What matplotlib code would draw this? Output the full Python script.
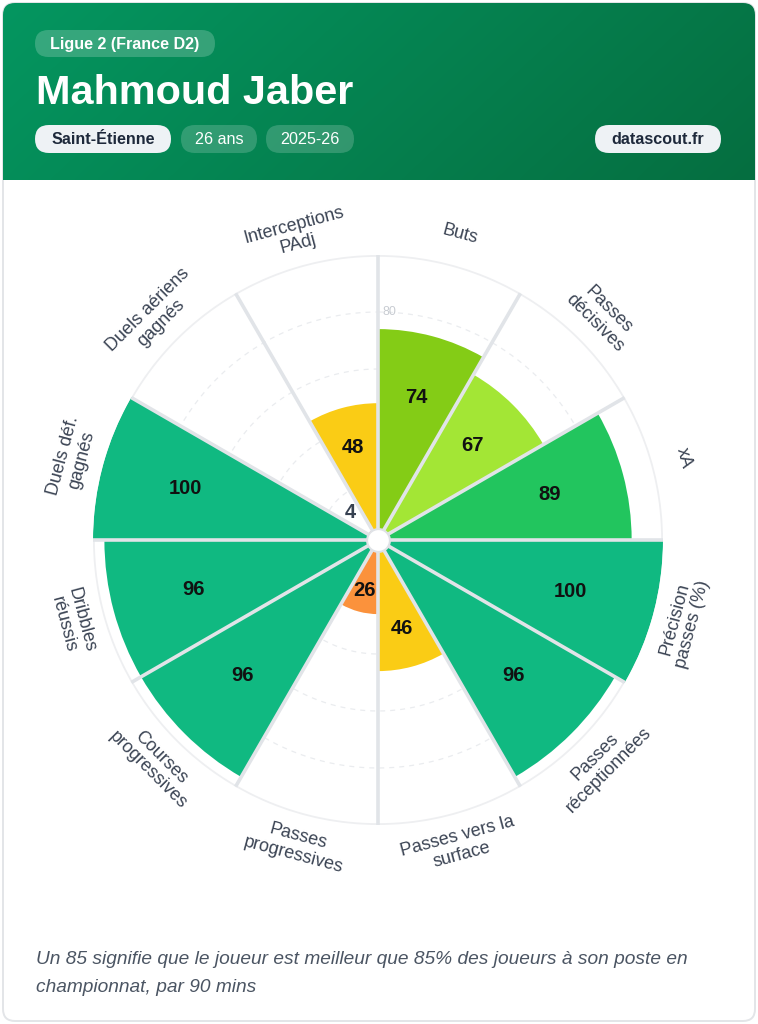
import numpy as np
import matplotlib
matplotlib.use("Agg")
import matplotlib.pyplot as plt
from matplotlib.patches import FancyBboxPatch

# ---------------- data ----------------
categories = ["Buts", "Passes\ndécisives", "xA", "Précision\npasses (%)",
              "Passes\nréceptionnées", "Passes vers la\nsurface", "Passes\nprogressives",
              "Courses\nprogressives", "Dribbles\nréussis", "Duels déf.\ngagnés",
              "Duels aériens\ngagnés", "Interceptions\nPAdj"]
values = [74, 67, 89, 100, 96, 46, 26, 96, 96, 100, 4, 48]
grid_levels = [20, 40, 60, 80]
league = "Ligue 2 (France D2)"
player = "Mahmoud Jaber"
club = "Saint-Étienne"
age = "26 ans"
season = "2025-26"
source = "datascout.fr"
footnote_lines = ["Un 85 signifie que le joueur est meilleur que 85% des joueurs à son poste en",
                  "championnat, par 90 mins"]


def color_for(v):
    if v >= 90:
        return "#10b981"
    if v >= 80:
        return "#22c55e"
    if v >= 70:
        return "#84cc16"
    if v >= 60:
        return "#a3e635"
    if v >= 40:
        return "#facc15"
    if v >= 20:
        return "#fb923c"
    return "#ef4444"


W, H = 758, 1024
FONT = "Liberation Sans"
fig = plt.figure(figsize=(W / 100, H / 100), dpi=100)
fig.patch.set_facecolor("white")

# ---------------- background / card ----------------
bg = fig.add_axes([0, 0, 1, 1])
bg.set_xlim(0, W)
bg.set_ylim(H, 0)
bg.axis("off")

card = FancyBboxPatch((3, 3), 752, 1018, boxstyle="round,pad=0,rounding_size=12",
                      facecolor="white", edgecolor="#e3e5e8", lw=1.4, zorder=1)
bg.add_patch(card)

# header gradient
gx = np.linspace(0, 1, 300)
gy = np.linspace(0, 1, 60)
GX, GY = np.meshgrid(gx, gy)
t = np.clip(GX * 0.8 + GY * 0.2, 0, 1)[..., None]
c0 = np.array([4, 150, 96]) / 255
c1 = np.array([6, 110, 64]) / 255
img = c0 * (1 - t) + c1 * t
im = bg.imshow(img, extent=(3, 755, 180, 3), aspect="auto", zorder=2, interpolation="bilinear")
clipcard = FancyBboxPatch((3, 3), 752, 1018, boxstyle="round,pad=0,rounding_size=12",
                          facecolor="none", edgecolor="none", transform=bg.transData)
im.set_clip_path(clipcard)
bg.set_xlim(0, W)
bg.set_ylim(H, 0)


def pill(x0, x1, y0, y1, text, face, alpha, tcolor, bold):
    p = FancyBboxPatch((x0, y0), x1 - x0, y1 - y0,
                       boxstyle="round,pad=0,rounding_size=%f" % ((y1 - y0) / 2),
                       facecolor=face, alpha=alpha, edgecolor="none", zorder=3)
    bg.add_patch(p)
    bg.text((x0 + x1) / 2, (y0 + y1) / 2 + 1, text, ha="center", va="center",
            color=tcolor, fontsize=11.6, fontweight="bold" if bold else "normal",
            family=FONT, zorder=4)


pill(35, 215, 30, 57, league, "white", 0.2, "white", True)
bg.text(36, 104, player, ha="left", va="baseline", color="white", fontsize=29.8,
        fontweight="bold", family=FONT, zorder=4)
pill(35, 171, 125, 153, club, "#eef2f5", 1.0, "#1e293b", True)
pill(181, 257, 125, 153, age, "white", 0.18, "white", False)
pill(266, 354, 125, 153, season, "white", 0.18, "white", False)
pill(595, 721, 125, 153, source, "#eef2f5", 1.0, "#1e293b", True)

for k, line in enumerate(footnote_lines):
    bg.text(36, 959 + 28 * k, line, ha="left", va="center", color="#4b5563",
            fontsize=13.8, style="italic", family=FONT, zorder=4)

# ---------------- polar chart ----------------
cx, cy, R = 378, 540, 285
ax = fig.add_axes([(cx - R) / W, (H - cy - R) / H, 2 * R / W, 2 * R / H], projection="polar")
ax.set_facecolor("none")
ax.set_theta_zero_location("N")
ax.set_theta_direction(-1)
ax.set_ylim(0, 100)
ax.grid(False)
ax.set_xticks([])
ax.set_yticks([])
ax.spines["polar"].set_visible(False)

n = len(values)
step = 2 * np.pi / n
theta = np.arange(n) * step + step / 2

# background sectors
ax.bar(theta, [100] * n, width=step, color="white", edgecolor="none", zorder=1)
full = np.linspace(0, 2 * np.pi, 721)
for lv in grid_levels:
    ax.plot(full, [lv] * len(full), color="#eaecef", lw=0.9, ls=(0, (4, 4)), zorder=2)
    ax.text(np.deg2rad(3), lv, str(lv), ha="center", va="center", fontsize=9,
            color="#c8ccd2", family=FONT, zorder=2)
ax.plot(full, [100] * len(full), color="#eeeff1", lw=2.6, zorder=2)

# value bars
ax.bar(theta, values, width=step, color=[color_for(v) for v in values],
       edgecolor="none", zorder=3)

# separators
for i in range(n):
    b = i * step
    ax.plot([b, b], [0, 100], color="#e1e4e8", lw=2.6, zorder=4, solid_capstyle="butt")

# centre dot
ax.scatter([0], [0], s=270, facecolor="white", edgecolor="#dfe2e6", lw=1.5, zorder=6)

# value labels
for th, v in zip(theta, values):
    if v >= 15:
        ax.text(th, 0.7 * v, str(v), ha="center", va="center", fontsize=14.5,
                fontweight="bold", color="#111111", family=FONT, zorder=7)
    else:
        ax.text(th, v + 9.5, str(v), ha="center", va="center", fontsize=14.5,
                fontweight="bold", color="#374151", family=FONT, zorder=7)

# category labels
for i, (th, lab) in enumerate(zip(theta, categories)):
    comp = np.rad2deg(th)
    rot = -comp
    while rot <= -90:
        rot += 180
    while rot > 90:
        rot -= 180
    ax.text(th, 111, lab, ha="center", va="center", rotation=rot, rotation_mode="anchor",
            multialignment="center", fontsize=13, color="#3b4454", family=FONT,
            linespacing=1.15, clip_on=False, zorder=7)

fig.savefig("out.png", dpi=100, facecolor="white")
